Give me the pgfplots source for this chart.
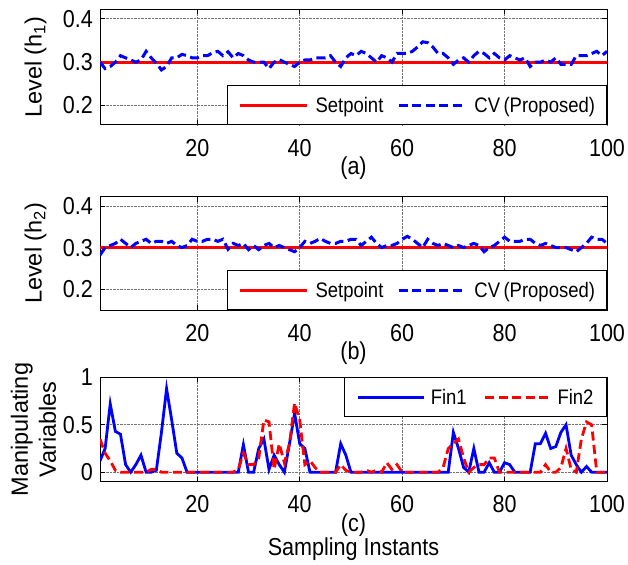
\documentclass[border=0pt]{standalone}
\usepackage{pgfplots}
\pgfplotsset{compat=1.18}
\usepackage{fontspec}
\setmainfont[FakeStretch=0.88]{Liberation Sans}
\newfontfamily\labelsans{Liberation Sans}

% ---------------- data ----------------
\pgfplotstableread{
x y
1 0.300
2 0.285
3 0.290
4 0.300
5 0.315
6 0.310
7 0.305
8 0.300
9 0.305
10 0.325
11 0.310
12 0.298
13 0.282
14 0.290
15 0.310
16 0.310
17 0.318
18 0.315
19 0.310
20 0.310
21 0.315
22 0.315
23 0.322
24 0.325
25 0.315
26 0.324
27 0.310
28 0.320
29 0.315
30 0.305
31 0.300
32 0.300
33 0.300
34 0.285
35 0.300
36 0.306
37 0.300
38 0.295
39 0.290
40 0.300
41 0.305
42 0.305
43 0.310
44 0.310
45 0.310
46 0.315
47 0.300
48 0.290
49 0.310
50 0.320
51 0.315
52 0.325
53 0.320
54 0.310
55 0.300
56 0.315
57 0.310
58 0.300
59 0.320
60 0.320
61 0.320
62 0.325
63 0.335
64 0.347
65 0.345
66 0.335
67 0.320
68 0.320
69 0.310
70 0.295
71 0.305
72 0.310
73 0.300
74 0.315
75 0.325
76 0.320
77 0.310
78 0.320
79 0.310
80 0.305
81 0.315
82 0.310
83 0.305
84 0.310
85 0.290
86 0.300
87 0.300
88 0.305
89 0.300
90 0.310
91 0.295
92 0.295
93 0.295
94 0.315
95 0.315
96 0.315
97 0.320
98 0.325
99 0.315
100 0.325
}\cvone

\pgfplotstableread{
x y
1 0.282
2 0.300
3 0.305
4 0.310
5 0.320
6 0.310
7 0.300
8 0.310
9 0.315
10 0.320
11 0.310
12 0.315
13 0.315
14 0.310
15 0.315
16 0.305
17 0.300
18 0.305
19 0.320
20 0.315
21 0.315
22 0.320
23 0.320
24 0.315
25 0.320
26 0.296
27 0.310
28 0.305
29 0.310
30 0.295
31 0.305
32 0.295
33 0.305
34 0.310
35 0.300
36 0.305
37 0.300
38 0.295
39 0.290
40 0.300
41 0.315
42 0.310
43 0.315
44 0.322
45 0.315
46 0.310
47 0.310
48 0.315
49 0.315
50 0.320
51 0.320
52 0.305
53 0.315
54 0.325
55 0.310
56 0.300
57 0.305
58 0.305
59 0.310
60 0.320
61 0.327
62 0.320
63 0.310
64 0.300
65 0.320
66 0.310
67 0.305
68 0.310
69 0.305
70 0.300
71 0.305
72 0.300
73 0.305
74 0.310
75 0.305
76 0.290
77 0.300
78 0.305
79 0.315
80 0.325
81 0.315
82 0.315
83 0.315
84 0.320
85 0.320
86 0.310
87 0.305
88 0.310
89 0.305
90 0.300
91 0.300
92 0.300
93 0.295
94 0.290
95 0.300
96 0.310
97 0.325
98 0.320
99 0.320
100 0.310
}\cvtwo

\pgfplotstableread{
x fin1 fin2
1 0.12 0.35
2 0.25 0.20
3 0.72 0.12
4 0.43 0.02
5 0.40 0.00
6 0.08 0.00
7 0.00 0.00
8 0.08 0.00
9 0.18 0.00
10 0.00 0.00
11 0.00 0.03
12 0.02 0.03
13 0.42 0.00
14 0.88 0.00
15 0.55 0.00
16 0.20 0.00
17 0.15 0.00
18 0.00 0.00
19 0.00 0.00
20 0.00 0.00
21 0.00 0.00
22 0.00 0.00
23 0.00 0.00
24 0.00 0.00
25 0.00 0.00
26 0.00 0.00
27 0.00 0.00
28 0.00 0.03
29 0.29 0.20
30 0.00 0.08
31 0.00 0.08
32 0.25 0.15
33 0.35 0.55
34 0.03 0.53
35 0.18 0.03
36 0.08 0.30
37 0.00 0.10
38 0.30 0.30
39 0.62 0.73
40 0.30 0.55
41 0.25 0.08
42 0.00 0.12
43 0.00 0.05
44 0.00 0.00
45 0.00 0.00
46 0.00 0.00
47 0.00 0.00
48 0.30 0.08
49 0.18 0.02
50 0.00 0.00
51 0.00 0.00
52 0.00 0.00
53 0.00 0.02
54 0.00 0.00
55 0.00 0.02
56 0.00 0.00
57 0.00 0.10
58 0.00 0.03
59 0.00 0.08
60 0.00 0.00
61 0.00 0.00
62 0.00 0.00
63 0.00 0.00
64 0.00 0.00
65 0.00 0.00
66 0.00 0.00
67 0.00 0.00
68 0.00 0.05
69 0.00 0.25
70 0.42 0.30
71 0.25 0.35
72 0.05 0.15
73 0.00 0.00
74 0.25 0.05
75 0.00 0.08
76 0.00 0.08
77 0.10 0.15
78 0.00 0.15
79 0.00 0.00
80 0.10 0.00
81 0.08 0.00
82 0.00 0.00
83 0.00 0.00
84 0.00 0.00
85 0.00 0.00
86 0.30 0.00
87 0.30 0.00
88 0.41 0.08
89 0.25 0.00
90 0.27 0.00
91 0.42 0.05
92 0.50 0.25
93 0.18 0.03
94 0.08 0.00
95 0.00 0.35
96 0.06 0.53
97 0.00 0.50
98 0.00 0.00
99 0.00 0.00
100 0.00 0.00
}\mvdata

\pgfplotsset{
  panel/.style={
    scale only axis, width=507pt,
    xmin=1, xmax=100,
    xtick={20,40,60,80,100}, xticklabels={20,40,60,80,100},
    /pgf/number format/assume math mode=true,
    tick align=inside, major tick length=5pt,
    every tick/.style={black, line width=0.8pt},
    grid=major, grid style={densely dotted, black!55, line width=0.7pt},
    axis line style={line width=1pt},
    tick label style={font=\fontsize{24.5}{28}\selectfont},
    xticklabel style={anchor=center, yshift=-22.7pt},
    yticklabel style={anchor=east, inner sep=0pt, xshift=-7pt},
    label style={font=\fontsize{24.5}{28}\selectfont},
    xlabel style={at={(axis description cs:0.5,0)}, anchor=center, yshift=-43pt},
    ylabel style={at={(axis description cs:-0.127,0.5)}, anchor=center,
      font=\labelsans\fontsize{23.5}{28}\selectfont},
    legend cell align=left,
    legend columns=2,
    legend image code/.code={\draw[##1] (0pt,0pt) -- (67pt,0pt);},
  },
  level legend/.style={
    legend style={at={(1,0)}, anchor=south east, draw=black, line width=1pt,
      fill=white, inner xsep=11.5pt, inner ysep=11pt,
      nodes={inner sep=0pt, font=\fontsize{21}{25}\selectfont},
      /tikz/every odd column/.append style={column sep=7pt},
      /tikz/every even column/.append style={column sep=14pt}},
  },
  sp/.style={red, line width=3pt},
  cv/.style={blue, line width=3pt, dash pattern=on 9pt off 4.5pt},
}

\begin{document}
\begin{tikzpicture}
\useasboundingbox (0,0) rectangle (628pt,-564pt);

% (a) tank 1 level
\begin{axis}[panel, level legend,
  at={(100pt,-9.3pt)}, anchor=north west, height=115.7pt,
  ymin=0.155, ymax=0.422,
  ytick={0.2,0.3,0.4}, yticklabels={0.2,0.3,0.4},
  xlabel={(a)}, ylabel={Level (h\textsubscript{1})}]
\addplot[sp] coordinates {(1,0.3) (100,0.3)};
\addlegendentry{Setpoint}
\addplot[cv] table[x=x, y=y] {\cvone};
\addlegendentry{CV\,(Proposed)}
\end{axis}

% (b) tank 2 level
\begin{axis}[panel, level legend,
  at={(100pt,-196.8pt)}, anchor=north west, height=113.2pt,
  ymin=0.15, ymax=0.422,
  ytick={0.2,0.3,0.4}, yticklabels={0.2,0.3,0.4},
  xlabel={(b)}, ylabel={Level (h\textsubscript{2})}]
\addplot[sp] coordinates {(1,0.3) (100,0.3)};
\addlegendentry{Setpoint}
\addplot[cv] table[x=x, y=y] {\cvtwo};
\addlegendentry{CV\,(Proposed)}
\end{axis}

% (c) manipulated inflows
\begin{axis}[panel, name=mv,
  at={(100pt,-377.3pt)}, anchor=north west, height=104.4pt,
  ymin=-0.1, ymax=1,
  ytick={0,0.5,1}, yticklabels={0,0.5,1},
  xlabel={(c)},
  ylabel={Manipulating\\Variables},
  ylabel style={align=center, at={(axis description cs:-0.131,0.5)}},
  legend image code/.code={\draw[#1] (0pt,0pt) -- (66pt,0pt);},
  legend style={at={(1,1)}, anchor=north east, draw=black, line width=1pt,
    fill=white, inner xsep=13pt, inner ysep=11pt,
    nodes={inner sep=0pt, font=\fontsize{21}{25}\selectfont},
    /tikz/every odd column/.append style={column sep=5pt},
    /tikz/every even column/.append style={column sep=17pt}}]
\addplot[blue, line width=2.8pt] table[x=x, y=fin1] {\mvdata};
\addlegendentry{Fin1}
\addplot[red, line width=2.8pt, dash pattern=on 9pt off 4.5pt] table[x=x, y=fin2] {\mvdata};
\addlegendentry{Fin2}
\end{axis}
\node[font=\fontsize{24.5}{28}\selectfont] at ([yshift=-67pt]mv.south) {Sampling Instants};
\end{tikzpicture}
\end{document}
